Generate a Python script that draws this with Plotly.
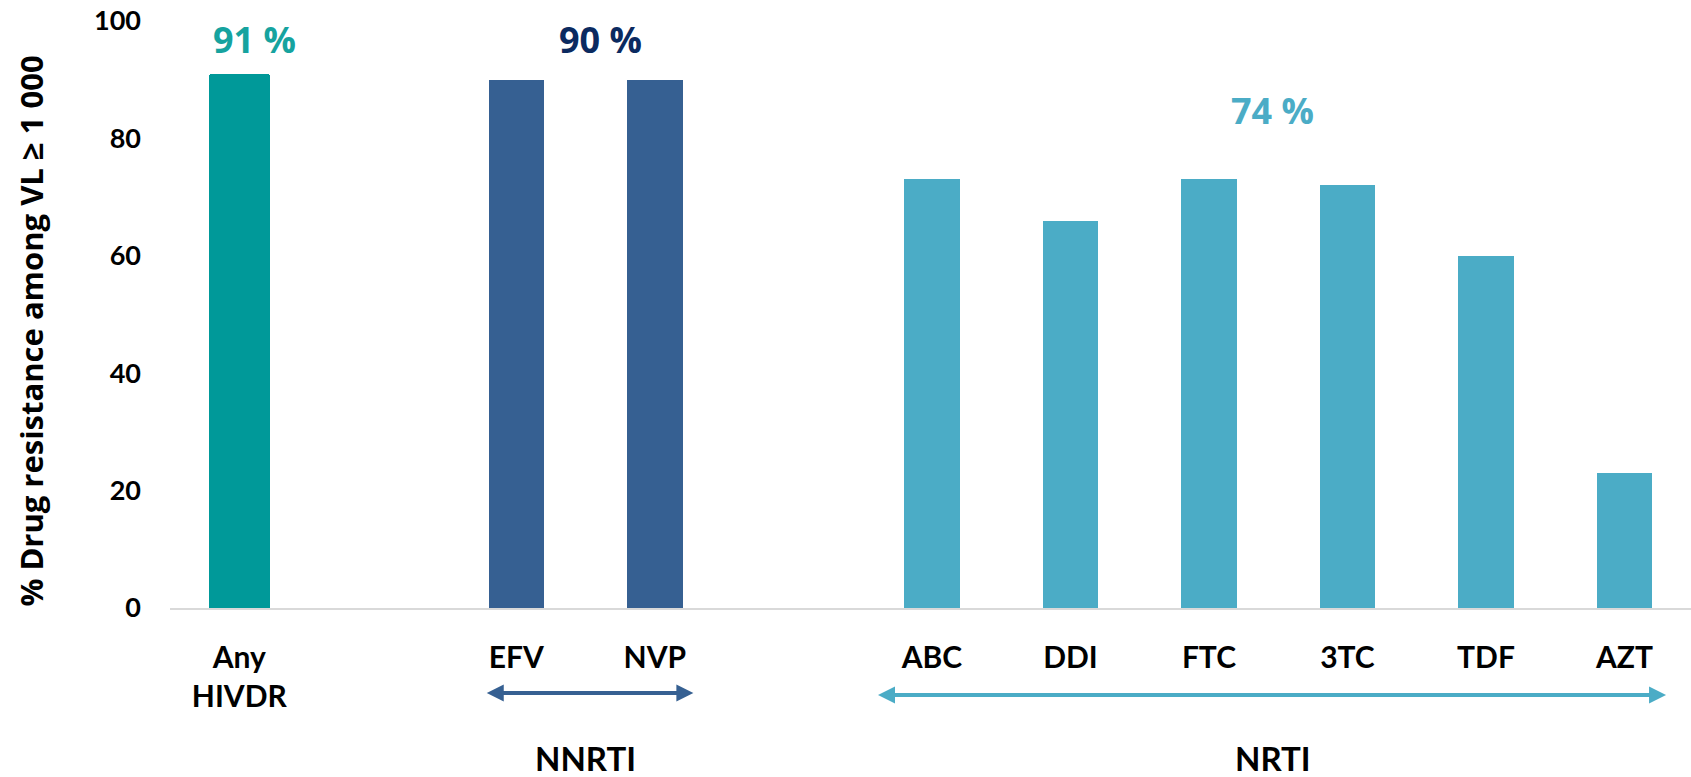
import plotly.graph_objects as go

# ---- data ----
categories = ["Any<br>HIVDR", "EFV", "NVP", "ABC", "DDI", "FTC", "3TC", "TDF", "AZT"]
groups = ["Any", "NNRTI", "NNRTI", "NRTI", "NRTI", "NRTI", "NRTI", "NRTI", "NRTI"]
values = [91, 90, 90, 73, 66, 73, 72, 60, 23]

group_names = ["Any", "NNRTI", "NRTI"]
group_colors = {"Any": "#009999", "NNRTI": "#366092", "NRTI": "#4BACC6"}
group_summary = {"Any": "91 %", "NNRTI": "90 %", "NRTI": "74 %"}
summary_colors = {"Any": "#16A39F", "NNRTI": "#0B2A60", "NRTI": "#4BACC6"}
y_ticks = [0, 20, 40, 60, 80, 100]
y_title = "% Drug resistance among VL \u2265 1 000"

# ---- positions: one slot per bar, one empty slot between groups ----
positions = []
p = -1
prev = None
for g in groups:
    p += 1
    if prev is not None and g != prev:
        p += 1
    positions.append(p)
    prev = g

LABEL_FONT = "Lato"
TITLE_FONT = "Open Sans"

fig = go.Figure()
for g in group_names:
    xs = [positions[i] for i in range(len(groups)) if groups[i] == g]
    ys = [values[i] for i in range(len(groups)) if groups[i] == g]
    fig.add_trace(go.Bar(
        x=xs, y=ys,
        width=0.44 if g == "Any" else 0.40,
        marker=dict(color=group_colors[g], line=dict(width=0),
                    cornerradius=3 if g == "Any" else 0),
        showlegend=False, hoverinfo="x+y",
    ))

annotations = []
# summary percentage labels
summary_pos = {"Any": (0.11, 96.9), "NNRTI": (2.61, 96.9), "NRTI": (7.46, 84.8)}
for g in group_names:
    x, y = summary_pos[g]
    annotations.append(dict(
        x=x, y=y, xref="x", yref="y", text=group_summary[g], showarrow=False,
        font=dict(family=TITLE_FONT, size=36, weight="bold", color=summary_colors[g]),
        xanchor="center", yanchor="middle"))

# double-headed arrows under the drug classes
arrow_spec = {"NNRTI": (1.776, 3.278, -0.145), "NRTI": (4.60, 10.30, -0.148)}
for g, (x0, x1, ya) in arrow_spec.items():
    annotations.append(dict(
        x=x1, y=ya, xref="x", yref="paper", ax=x0, ay=0, axref="x", ayref="pixel",
        text="", showarrow=True, arrowhead=2, startarrowhead=2, arrowside="end+start",
        arrowwidth=4, arrowsize=0.85, startarrowsize=0.85, arrowcolor=group_colors[g],
        standoff=0, startstandoff=0))

# class labels
class_pos = {"NNRTI": 2.5, "NRTI": 7.46}
for g, x in class_pos.items():
    annotations.append(dict(
        x=x, y=-0.255, xref="x", yref="paper", text=g, showarrow=False,
        font=dict(family=LABEL_FONT, size=33, weight="bold", color="black"),
        xanchor="center", yanchor="middle"))

# y-axis title
annotations.append(dict(
    x=-0.092, y=0.471, xref="paper", yref="paper", text=y_title, showarrow=False,
    textangle=-90, font=dict(family=TITLE_FONT, size=31, weight="bold", color="black"),
    xanchor="center", yanchor="middle"))

fig.update_layout(
    width=1691, height=777,
    margin=dict(l=170, r=0, t=21, b=169),
    paper_bgcolor="white", plot_bgcolor="white",
    bargap=0, annotations=annotations,
    xaxis=dict(
        range=[-0.5, 10.48], tickmode="array", tickvals=positions, ticktext=categories,
        tickfont=dict(family=LABEL_FONT, size=30, weight="bold", color="black"),
        showgrid=False, zeroline=False, showline=True, linecolor="#D9D9D9", linewidth=2,
        ticks="", ticklabelstandoff=22, fixedrange=True),
    yaxis=dict(
        range=[0, 100], tickmode="array", tickvals=y_ticks,
        tickfont=dict(family=LABEL_FONT, size=27, weight="bold", color="black"),
        showgrid=False, zeroline=False, showline=False, ticks="",
        ticklabelstandoff=28, fixedrange=True),
)

fig.write_html("out.html")
